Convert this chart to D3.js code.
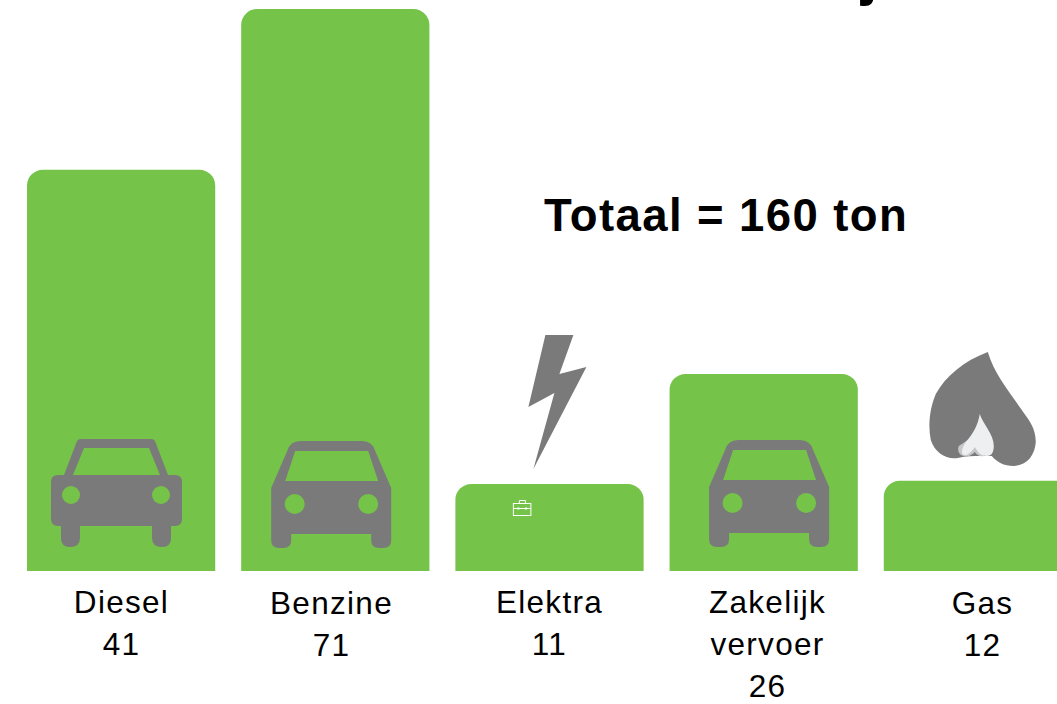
<!DOCTYPE html>
<html>
<head>
<meta charset="utf-8">
<script src="https://cdn.jsdelivr.net/npm/d3@7"></script>
<style>
  html, body { margin: 0; padding: 0; background: #fff; overflow: hidden; }
  svg { display: block; }
  text { font-family: "Liberation Sans", Arial, sans-serif; fill: #000; }
  .label { font-size: 31.5px; letter-spacing: 1.3px; text-anchor: middle; }
  .total { font-size: 45.5px; font-weight: bold; letter-spacing: 1.4px; }
</style>
</head>
<body>
<div id="chart"></div>
<script>
// Values as printed under the bars (ton)
var categories = ["Diesel", "Benzine", "Elektra", "Zakelijk vervoer", "Gas"];
var printedValues = [41, 71, 11, 26, 12];
// Heights as drawn: the Diesel bar is taller than its printed value
var barValues = [50.7, 71, 11, 24.9, 11.4];
var labelLines = [["Diesel", "41"], ["Benzine", "71"], ["Elektra", "11"], ["Zakelijk", "vervoer", "26"], ["Gas", "12"]];
var totalLabel = "Totaal = 160 ton";

var width = 1057, height = 704;
var baseline = 571, plotTop = 9;
var green = "#75c348", gray = "#7a7a7a";

var svg = d3.select("#chart").append("svg")
    .attr("width", width)
    .attr("height", height);

var x = d3.scaleBand()
    .domain(categories)
    .range([27, 1072])
    .paddingInner(0.1213)
    .paddingOuter(0);

var y = d3.scaleLinear()
    .domain([0, 71])
    .range([baseline, plotTop]);

// Bar with rounded top corners only
function barPath(d) {
  var p = d3.path(), r = 16,
      x0 = x(d.cat), x1 = x0 + x.bandwidth(), y0 = y(d.val), y1 = y(0);
  p.moveTo(x0, y1);
  p.lineTo(x0, y0 + r);
  p.arcTo(x0, y0, x0 + r, y0, r);
  p.lineTo(x1 - r, y0);
  p.arcTo(x1, y0, x1, y0 + r, r);
  p.lineTo(x1, y1);
  p.closePath();
  return p.toString();
}

svg.selectAll(".bar")
    .data(categories.map(function(c, i) { return {cat: c, val: barValues[i]}; }))
    .enter().append("path")
    .attr("class", "bar")
    .attr("d", barPath)
    .attr("fill", green);

// Labels, one tspan per line
var labelX = [121.5, 331.5, 549.5, 767.5, 982.5],
    labelY = [613, 614, 613, 613, 614];
var labels = svg.selectAll(".label")
    .data(labelLines)
    .enter().append("text")
    .attr("class", "label")
    .attr("transform", function(d, i) { return "translate(" + labelX[i] + "," + labelY[i] + ")"; });

labels.selectAll("tspan")
    .data(function(d) { return d; })
    .enter().append("tspan")
    .attr("x", 0)
    .attr("y", function(d, i) { return i * 42; })
    .text(function(d) { return d; });

svg.append("text")
    .attr("class", "total")
    .attr("x", 544)
    .attr("y", 231)
    .text(totalLabel);

// Tail of the title that is cut off at the top of the picture
svg.append("text")
    .attr("x", 861)
    .attr("y", -6)
    .attr("font-size", 60)
    .attr("font-weight", "bold")
    .text("j");

// Icons, drawn in page pixels around their own origin
var carWide = "M-52,36 L-39,2 Q-38,0 -35,0 L35,0 Q38,0 39,2 L52,36 L59,36 Q66,36 66,43 L66,80 Q66,87 59,87 L55,87 L55,99 Q55,108 46,108 Q36,108 36,99 L36,87 L-36,87 L-36,99 Q-36,108 -46,108 Q-55,108 -55,99 L-55,87 L-58,87 Q-65,87 -65,80 L-65,43 Q-65,36 -58,36 Z";
var carWideGlass = "M-32,9 L33,9 L44,36 L-43,36 Z";

var carTall = "M-44,10 Q-41,0 -31,0 L31,0 Q41,0 44,10 L60,47 L60,99 Q60,107 52,107 L48,107 Q40,107 40,99 L40,93 L-40,93 L-40,99 Q-40,107 -48,107 L-52,107 Q-60,107 -60,99 L-60,47 Z";
var carTallGlass = "M-36,10 L37,10 L47,40 L-46,40 Z";

function drawCar(cat, dx, dy, body, glass, lights, r) {
  var g = svg.append("g")
      .attr("transform", "translate(" + (x(cat) + dx) + "," + dy + ")");
  g.append("path").attr("d", body).attr("fill", gray);
  g.append("path").attr("d", glass).attr("fill", green);
  g.selectAll("circle")
      .data(lights)
      .enter().append("circle")
      .attr("cx", function(d) { return d[0]; })
      .attr("cy", function(d) { return d[1]; })
      .attr("r", r)
      .attr("fill", green);
}

drawCar("Diesel", 89, 439, carWide, carWideGlass, [[-45, 56], [45, 56]], 9);
drawCar("Benzine", 90, 441, carTall, carTallGlass, [[-36.5, 63], [37, 63]], 10);
drawCar("Zakelijk vervoer", 99.5, 440, carTall, carTallGlass, [[-36.5, 63], [37, 63]], 10);

// Lightning bolt above Elektra
svg.append("path")
    .attr("transform", "translate(" + x("Elektra") + ",0)")
    .attr("d", "M90,335 L118,335 L104,374 L131,367 L78,469 L99,393 L73,407 Z")
    .attr("fill", gray);

// Small briefcase on the Elektra bar
var briefcase = svg.append("g")
    .attr("transform", "translate(" + x("Elektra") + ",0)")
    .attr("fill", "none")
    .attr("stroke", "#fff")
    .attr("stroke-width", 1);
briefcase.append("rect").attr("x", 58).attr("y", 503.5).attr("width", 17.5).attr("height", 12);
briefcase.append("path").attr("d", "M64,503.5 V500.5 H70 V503.5 M58,508.5 H75.5");
briefcase.append("path").attr("d", "M63,507.5 V509.5 M70.5,507.5 V509.5").attr("stroke-width", 2);

// Flame above Gas
var flame = svg.append("g")
    .attr("transform", "translate(" + x("Gas") + ",0)");
flame.append("path")
    .attr("d", "M104,352 C80,361 62,376 52,394 C46,408 44,425 47,440 C51,453 63,460 74,458 C82,456 89,456 98,456 L108,456 C113,462 120,466 130,466 C143,465 151,456 152,442 C152,428 145,420 138,410 C126,392 111,375 104,352 Z")
    .attr("fill", gray);
flame.append("path")
    .attr("d", "M75,446 C73,451 76,456 81,456 C85,457 88,455 91,452 C93,455 96,457 100,456 L104,445 L90,436 Z")
    .attr("fill", "#c6c7c8");
flame.append("path")
    .attr("d", "M96,414 C99,424 110,434 110,446 C110,452 108,456 103,456 C97,456 94,452 91,447 C88,452 83,456 80,455 C77,454 78,448 82,442 C89,434 94,426 96,414 Z")
    .attr("fill", "#eeeff1");
</script>
</body>
</html>
